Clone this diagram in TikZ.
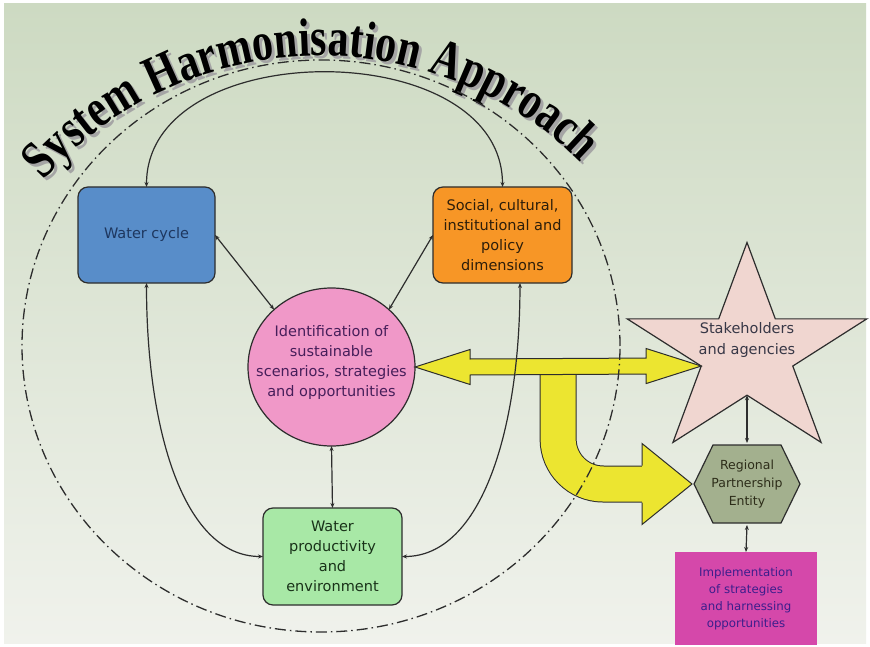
\documentclass[tikz,border=0pt]{standalone}
\usepackage{fontspec}
\setmainfont{DejaVu Sans}
\newfontfamily\titlefont{Liberation Serif}[FakeStretch=0.78]
\usetikzlibrary{positioning,arrows.meta,shapes.geometric,decorations.text,calc}
\definecolor{bgtop}{RGB}{205,218,194}
\definecolor{bgbot}{RGB}{240,242,236}
\definecolor{edge}{RGB}{45,45,45}
\definecolor{wcblue}{RGB}{88,141,201}
\definecolor{wctext}{RGB}{30,55,95}
\definecolor{socorange}{RGB}{247,150,38}
\definecolor{soctext}{RGB}{45,30,10}
\definecolor{identpink}{RGB}{240,152,200}
\definecolor{identtext}{RGB}{70,30,90}
\definecolor{wpegreen}{RGB}{168,232,166}
\definecolor{wpetext}{RGB}{25,50,25}
\definecolor{starpink}{RGB}{240,214,208}
\definecolor{startext}{RGB}{55,55,70}
\definecolor{hexgreen}{RGB}{163,176,142}
\definecolor{hextext}{RGB}{45,45,25}
\definecolor{implmagenta}{RGB}{213,72,170}
\definecolor{impltext}{RGB}{60,30,140}
\definecolor{arrowyellow}{RGB}{236,229,48}
\definecolor{shadowgray}{RGB}{165,165,165}

\begin{document}
\begin{tikzpicture}[
x=1pt,y=1pt,
box/.style={
rectangle,
rounded corners=10pt,
draw=edge,
line width=1.2pt,
outer sep=0pt,
inner sep=2pt,
align=center,
font=\fontsize{14.5}{20}\selectfont
},
link/.style={
{Stealth[length=5pt,width=4pt]}-{Stealth[length=5pt,width=4pt]},
line width=1.2pt,
draw=edge
},
bigarrow/.style={
fill=arrowyellow,
draw=edge,
line width=1pt
},
orbit/.style={
draw=edge,
line width=1.3pt,
dash pattern=on 11pt off 4pt on 1.5pt off 4pt
},
titletext/.style={
decorate,
decoration={
text along path,
text align=center,
text color=#1,
text={|\titlefont\bfseries\fontsize{54}{54}\selectfont|System Harmonisation Approach}
}
},
starshape/.style={
star,
star points=5,
star point ratio=2.618,
minimum size=252pt,
inner sep=0pt,
outer sep=0pt,
draw=edge,
line width=1.2pt,
fill=starpink
},
hexbox/.style={
minimum width=110pt,
minimum height=82pt,
inner sep=0pt,
outer sep=0pt,
align=center,
text=hextext,
font=\fontsize{12.5}{18}\selectfont,
path picture={
\filldraw[fill=hexgreen,draw=edge,line width=1.2pt]
([xshift=2pt]path picture bounding box.west)
-- ([xshift=21pt,yshift=-2pt]path picture bounding box.north west)
-- ([xshift=-21pt,yshift=-2pt]path picture bounding box.north east)
-- ([xshift=-2pt]path picture bounding box.east)
-- ([xshift=-21pt,yshift=2pt]path picture bounding box.south east)
-- ([xshift=21pt,yshift=2pt]path picture bounding box.south west)
-- cycle;
}
}
]

% page and background
\useasboundingbox (0,0) rectangle (870,-647);
\fill[white] (0,0) rectangle (870,-647);
\shade[top color=bgtop,bottom color=bgbot] (4,-4) rectangle (866,-643);

% arched title with its shadow
\coordinate (hub) at (321,-346);
\coordinate (titlehub) at (321,-415);
\path[titletext=shadowgray] ([shift={(3,-3)}]titlehub) ++(162:366 and 359) arc[start angle=162,end angle=22,x radius=366,y radius=359];
\path[titletext=black] (titlehub) ++(162:366 and 359) arc[start angle=162,end angle=22,x radius=366,y radius=359];

% the system
\node[box,fill=wcblue,text=wctext,minimum width=137pt,minimum height=96pt] (wc) at (146.5,-235) {Water cycle};
\node[box,fill=socorange,text=soctext,minimum width=139pt,minimum height=96pt] (soc) at (502.5,-235) {Social, cultural,\\institutional and\\policy\\dimensions};
\node[ellipse,draw=edge,line width=1.2pt,fill=identpink,minimum width=167pt,minimum height=158pt,inner sep=0pt,outer sep=0pt] (ident) at (331.5,-367) {};
\node[align=center,text=identtext,font=\fontsize{14.5}{20}\selectfont] (identlabel) at (331.5,-362) {Identification of\\sustainable\\scenarios, strategies\\and opportunities};
\node[box,fill=wpegreen,text=wpetext,minimum width=139pt,minimum height=97pt] (wpe) at (332.5,-556.5) {Water\\productivity\\and\\environment};

% partners
\begin{scope}[shift={(747,-353)},yscale=0.877]
\node[starshape,transform shape] (stake) at (0,0) {};
\end{scope}
\node[align=center,text=startext,font=\fontsize{14.5}{21}\selectfont] (stakelabel) at (747,-340) {Stakeholders\\and agencies};
\node[hexbox] (rpe) at (747,-484) {Regional\\Partnership\\Entity};
\node[rectangle,fill=implmagenta,text=impltext,minimum width=142pt,minimum height=93pt,outer sep=0pt,align=center,font=\fontsize{11.8}{17}\selectfont] (impl) at (746,-598.5) {Implementation\\of strategies\\and harnessing\\opportunities};

% yellow block arrows
\coordinate (split) at ($(ident.east)!0.5!(stake.198)$);
\draw[edge,line width=1pt,double=arrowyellow,double distance=35pt,rounded corners=45pt] (split) |- ($(rpe.west)+(-50,0)$);
\fill[arrowyellow] ($(rpe.west)+(-50,40.5)$) -- (rpe.west) -- ($(rpe.west)+(-50,-40.5)$) -- cycle;
\draw[edge,line width=1pt] ($(rpe.west)+(-50,18.5)$) -- ++(0,22) -- (rpe.west) -- ($(rpe.west)+(-50,-40.5)$) -- ++(0,22);
\filldraw[bigarrow] (ident.east) -- ++(55,17.5) -- ++(0,-9.5) -- ($(stake.198)+(-55,8)$) -- ++(0,9.5) -- (stake.198) -- ++(-55,-17.5) -- ++(0,9.5) -- ($(ident.east)+(55,-8)$) -- ++(0,-9.5) -- cycle;

% system boundary
\draw[orbit] (hub) ellipse [x radius=299,y radius=286];

% links
\draw[link] (wc.north) to[out=90,in=90,looseness=1.1] (soc.north);
\draw[link] (wc.east) -- (ident.135);
\draw[link] (soc.west) -- (ident.45);
\draw[link] (wc.south) to[out=-90,in=180,out distance=145pt,in distance=80pt] (wpe.west);
\draw[link] (soc.-70) to[out=-90,in=0,out distance=145pt,in distance=80pt] (wpe.east);
\draw[link] (ident.south) -- (wpe.north);
\draw[link] (stake.270) -- (rpe.north);
\draw[link] (rpe.south) -- (impl.north);

\end{tikzpicture}
\end{document}
